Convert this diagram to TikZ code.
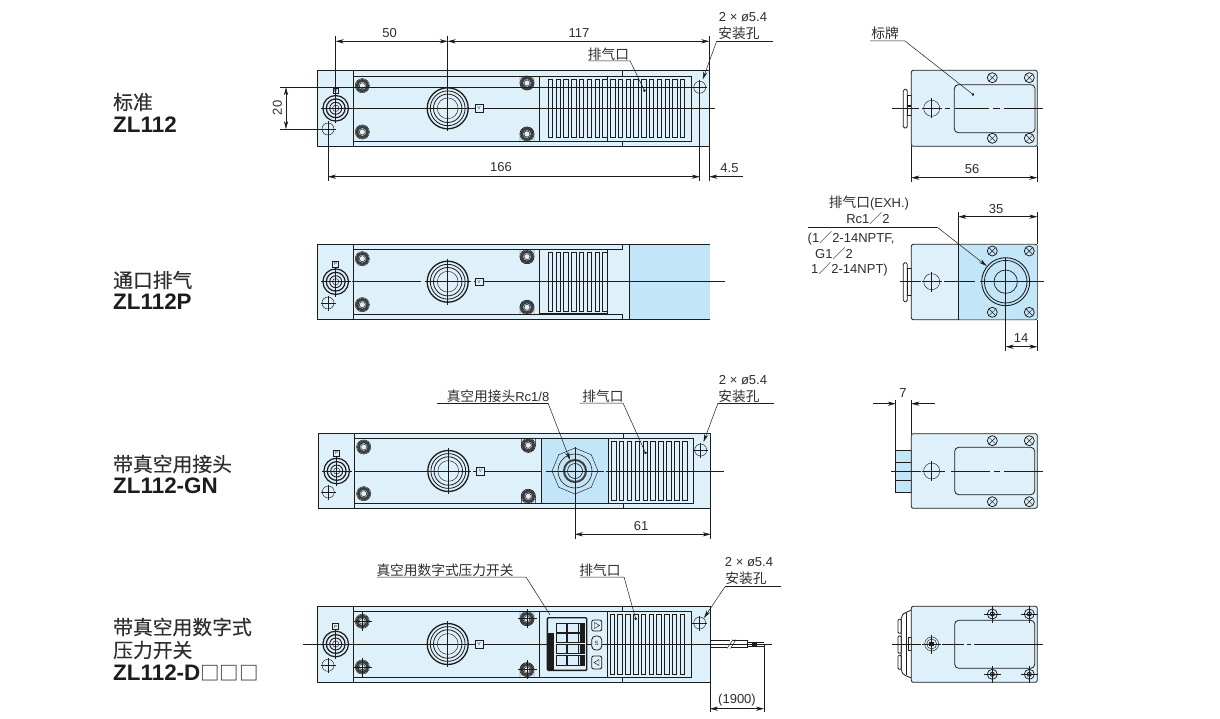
\documentclass[tikz,border=0pt]{standalone}
\usepackage{fontspec}
\setmainfont{Liberation Sans}
\newfontfamily\cjk{Noto Sans CJK SC}
\newfontfamily\cjkh[FakeBold=0.25]{Noto Sans CJK SC}
\usetikzlibrary{arrows.meta,shapes.geometric}
\definecolor{pale}{HTML}{DEF0FA}
\definecolor{deep}{HTML}{C3E5F8}
\definecolor{ink}{HTML}{1C1C1C}
\definecolor{txt}{HTML}{2E2E2E}
\tikzset{
  outline/.style={draw=ink,line width=0.8pt,fill=pale},
  plain/.style={draw=ink,line width=0.8pt},
  thin line/.style={draw=ink,line width=0.45pt},
  heavy/.style={draw=ink,line width=1.2pt},
  center line/.style={draw=ink,line width=0.55pt},
  dimension/.style={draw=ink,line width=0.5pt,{Stealth[length=8pt,width=4.2pt]}-{Stealth[length=8pt,width=4.2pt]}},
  extension/.style={draw=ink,line width=0.5pt},
  leader/.style={draw=ink,line width=0.5pt},
  leader arrow/.style={leader,-{Stealth[length=8pt,width=4pt]}},
  leader dot/.style={leader,-{Circle[length=2.6pt]}},
  lbl/.style={inner sep=0pt,text=txt,font=\fontsize{13}{15}\selectfont},
  lblc/.style={inner sep=0pt,text=txt,font=\fontsize{13.7}{15}\selectfont\cjk},
  headc/.style={inner sep=0pt,anchor=west,text=txt,font=\fontsize{19.8}{21}\selectfont\cjkh},
  headb/.style={inner sep=0pt,anchor=west,text=ink,font=\fontsize{22.4}{23}\selectfont\bfseries},
  tag/.style={inner sep=0pt,text=txt,font=\fontsize{4.5}{5}\selectfont},
}
\newcommand{\ScrewHead}[2]{%
  \path[draw=ink!85,line width=2.8pt,fill=pale] (#1,#2) circle (5.4pt);
  \path[thin line] (#1,#2) circle (3pt);
  \path[thin line] (#1,#2) circle (7.1pt);}
\newcommand{\TabTop}[3]{%
  \path[thin line] ({#1-7},#3) -- ({#1-7},#2) arc[start angle=180,end angle=360,radius=7pt] -- ({#1+7},#3);
  \ScrewHead{#1}{#2}}
\newcommand{\TabBot}[3]{%
  \path[thin line] ({#1-7},#3) -- ({#1-7},#2) arc[start angle=180,end angle=0,radius=7pt] -- ({#1+7},#3);
  \ScrewHead{#1}{#2}}
\newcommand{\CrossHair}[3]{%
  \path[thin line] ({#1-#3},#2) -- ({#1+#3},#2) ({#1},{#2-#3}) -- ({#1},{#2+#3});}
\newcommand{\MountHole}[2]{%
  \path[thin line,fill=pale] (#1,#2) circle (6pt);
  \CrossHair{#1}{#2}{7.5}}
\newcommand{\BigPort}[2]{%
  \path[draw=ink,line width=1.3pt] (#1,#2) circle (20.5pt);
  \path[plain] (#1,#2) circle (17.4pt);
  \path[plain] (#1,#2) circle (14.2pt);
  \path[thin line] (#1,#2) circle (10.4pt);
  \CrossHair{#1}{#2}{23}}
\newcommand{\SmallPort}[2]{%
  \path[draw=ink,line width=1.2pt] (#1,#2) circle (12.8pt);
  \path[draw=ink,line width=1.2pt] (#1,#2) circle (9.4pt);
  \path[draw=ink,line width=0.9pt] (#1,#2) circle (6pt);
  \path[thin line] (#1,#2) circle (3.2pt);
  \CrossHair{#1}{#2}{15}}
\newcommand{\TagBox}[5]{% x,y,name,size,text
  \node[tag,draw=ink,line width=0.5pt,minimum size=#4pt,fill=pale] (#3) at (#1,#2) {#5};}
\newcommand{\Slots}[6]{%
  \foreach \i in {0,...,#6}{\path[draw=ink,line width=0.7pt] ({#1+\i*#5},#2) rectangle ({#1+\i*#5+#4},#3);}}
\newcommand{\XScrew}[2]{%
  \path[draw=ink,line width=0.75pt] (#1,#2) circle (5pt);
  \path[thin line] ({#1-3.3},{#2-3.3}) -- ({#1+3.3},{#2+3.3}) ({#1-3.3},{#2+3.3}) -- ({#1+3.3},{#2-3.3});}
\newcommand{\CScrew}[2]{%
  \path[draw=ink,line width=0.75pt] (#1,#2) circle (5pt);
  \path[draw=ink,line width=1pt] (#1,#2) circle (2pt);
  \CrossHair{#1}{#2}{8.5}}
\newcommand{\wsl}{{\cjk ／}}
\begin{document}
\begin{tikzpicture}[x=1pt,y=-1pt]
\useasboundingbox (0,0) rectangle (1220,719);
\path[fill=white] (0,0) rectangle (1220,719);

% ---- headings
\node[headc] (h1) at (113,102) {标准};
\node[headb] (h1b) at (113,125) {ZL112};
\node[headc] (h2) at (113,280) {通口排气};
\node[headb] (h2b) at (113,302) {ZL112P};
\node[headc] (h3) at (113,464) {带真空用接头};
\node[headb] (h3b) at (113,486) {ZL112-GN};
\node[headc] (h4) at (113,627) {带真空用数字式};
\node[headc] (h4a) at (113,650) {压力开关};
\node[headb] (h4b) at (113,673) {ZL112-D{\mdseries\cjk\fontsize{19.4}{22}\selectfont □□□}};

% ======== ROW 1 ========
\path[outline] (317.7,70.3) rectangle (709.3,146.2);
\path[plain] (353.3,70.3) -- (353.3,146.2);
\path[plain] (353.3,76.3) rectangle (691.7,141.3);
\path[plain] (622.3,70.3) -- (622.3,76.3) (622.3,141.3) -- (622.3,146.2);
\path[heavy] (539.3,76.3) -- (539.3,141.3) -- (607.3,141.3);
\path[plain] (607.3,76.3) -- (607.3,141.3);
\Slots{548.3}{79.3}{137.7}{4.4}{7.77}{17}
\BigPort{447.7}{108.3}
\SmallPort{335.7}{108.3}
\TagBox{335.7}{90.7}{t1p}{5}{P}
\TagBox{479}{108.3}{t1v}{7.5}{V}
\MountHole{328}{129}
\MountHole{699.7}{87.3}
\ScrewHead{362.3}{85.7}
\ScrewHead{362.3}{132}
\TabTop{527}{83}{76.3}
\TabBot{527}{134}{141.3}
\path[center line] (335.7,108.3) -- (475,108.3) (483,108.3) -- (715,108.3);
% dims
\path[extension] (335.7,36) -- (335.7,108.3) (447.7,36) -- (447.7,108.3) (709.3,36) -- (709.3,70.3);
\path[dimension] (335.7,41.3) -- (447.7,41.3);
\path[dimension] (447.7,41.3) -- (709.3,41.3);
\node[lbl] (d50) at (389.5,33) {50};
\node[lbl] (d117) at (579,33) {117};
\path[extension] (280,87.3) -- (693,87.3) (280,129) -- (322,129);
\path[dimension] (286,87.3) -- (286,129);
\node[lbl,rotate=90] (d20) at (277.5,108) {20};
\path[extension] (328,129) -- (328,181.5) (699.7,93) -- (699.7,181.5) (709.3,146.2) -- (709.3,181.5);
\path[dimension] (328,176.7) -- (699.7,176.7);
\path[leader,-{Stealth[length=8pt,width=4.2pt]}] (743,176.7) -- (709.3,176.7);
\node[lbl] (d166) at (501,167) {166};
\node[lbl] (d45) at (729.5,168) {4.5};
\node[lblc] (v1) at (608.5,54) {排气口};
\path[leader dot] (588,60.8) -- (630,60.8) -- (645,91.7);
\node[lbl] (h1a) at (743,17) {2 × ø5.4};
\node[lblc] (h1c) at (739,33) {安装孔};
\path[leader] (773,41) -- (716.7,41);
\path[leader arrow] (716.7,41) -- (702.7,79.5);

% ---- side view 1
\path[plain,rounded corners=1.5pt] (903.3,89.3) rectangle (907.3,128);
\path[plain] (907.3,95) rectangle (911.3,105) (907.3,106.7) rectangle (911.3,115);
\path[outline,rounded corners=2pt] (911.3,70.3) rectangle (1037.3,146.3);
\path[plain,rounded corners=4pt] (954.3,84.7) rectangle (1035,132.7);
\XScrew{992.3}{77.7}\XScrew{1029.3}{77.7}\XScrew{992.3}{138.3}\XScrew{1029.3}{138.3}
\path[thin line,fill=pale] (931.7,108.3) circle (8pt);
\CrossHair{931.7}{108.3}{10}
\path[center line] (892,108.3) -- (919,108.3) (945,108.3) -- (950,108.3) (955,108.3) -- (989,108.3) (993,108.3) -- (1000,108.3) (1004,108.3) -- (1042.7,108.3);
\path[extension] (911.3,146.3) -- (911.3,182) (1037.3,146.3) -- (1037.3,182);
\path[dimension] (911.3,177.7) -- (1037.3,177.7);
\node[lbl] (d56) at (972,169.5) {56};
\node[lblc] (sign) at (885,33) {标牌};
\path[leader dot] (870,41) -- (905,41) -- (974,95.3);

% ======== ROW 2 ========
\path[outline] (317.7,244.3) rectangle (709.7,319.3);
\path[fill=deep] (629.3,244.3) rectangle (709.7,319.3);
\path[plain] (317.7,244.3) -- (709.7,244.3) (317.7,319.3) -- (709.7,319.3);
\path[plain] (353.3,244.3) -- (353.3,319.3) (629.3,244.3) -- (629.3,319.3);
\path[plain] (353.3,249.3) -- (622.3,249.3) -- (622.3,244.3) (353.3,314.3) -- (622.3,314.3) -- (622.3,319.3);
\path[heavy] (607.3,249.3) -- (539.3,249.3) -- (539.3,314) -- (607.3,314);
\path[plain] (607.3,249.3) -- (607.3,314);
\Slots{548.3}{252.3}{311.7}{4.4}{7.77}{7}
\BigPort{447.7}{281.7}
\SmallPort{335.7}{281.7}
\TagBox{335.7}{264.3}{t2p}{6}{P}
\MountHole{328}{303}
\ScrewHead{362.3}{258.7}
\ScrewHead{362.3}{304.7}
\TabTop{527}{256.7}{249.3}
\TabBot{527}{307.3}{314.3}
\path[center line] (352,281.7) -- (421,281.7) (474,281.7) -- (725,281.7);
\TagBox{479}{281.7}{t2v}{7.5}{V}

% ---- side view 2
\path[plain,rounded corners=1.5pt] (903.3,262.7) rectangle (907.3,301.7);
\path[plain] (907.3,268) rectangle (911.3,295);
\path[outline,rounded corners=2pt] (911.3,244.3) rectangle (1037.3,319.7);
\path[fill=deep,rounded corners=2pt] (958.3,245) rectangle (1036.9,319.3);
\path[plain] (958.3,244.3) -- (958.3,319.7);
\XScrew{992.3}{251}\XScrew{1029.3}{251}\XScrew{992.3}{312.3}\XScrew{1029.3}{312.3}
\path[draw=ink,line width=0.9pt] (1005.7,281.7) circle (24pt);
\path[draw=ink,line width=0.8pt] (1005.7,281.7) circle (21.3pt);
\path[draw=ink,line width=0.7pt] (1005.7,281.7) circle (11.7pt);
\path[thin line,fill=pale] (931.7,281.7) circle (8pt);
\CrossHair{931.7}{281.7}{10}
\path[center line] (900,281.7) -- (921,281.7) (927,281.7) -- (936,281.7) (944,281.7) -- (975,281.7) (980,281.7) -- (1044,281.7);
\path[extension] (1005.7,258) -- (1005.7,351);
\path[extension] (958.3,212) -- (958.3,244.3) (1037.3,212) -- (1037.3,244.3) (1037.3,319.7) -- (1037.3,351);
\path[dimension] (958.3,216.7) -- (1037.3,216.7);
\path[dimension] (1005.7,346.7) -- (1037.3,346.7);
\node[lbl] (d35) at (996,209) {35};
\node[lbl] (d14) at (1021,338) {14};
\node[lbl] (x1) at (869,203) {{\cjk\fontsize{13.7}{15}\selectfont 排气口}(EXH.)};
\node[lbl] (x2) at (868,219) {Rc1\wsl 2};
\path[leader] (808,227) -- (937,227);
\path[leader arrow] (937,227) -- (986.7,266);
\node[lbl,anchor=west] (x3) at (807.5,238) {(1\wsl 2-14NPTF,};
\node[lbl,anchor=west] (x4) at (815,254) {G1\wsl 2};
\node[lbl,anchor=west] (x5) at (811,269) {1\wsl 2-14NPT)};

% ======== ROW 3 ========
\path[outline] (318.7,433.7) rectangle (710.7,508.3);
\path[fill=deep] (541.3,438.3) rectangle (608.7,503.3);
\path[plain] (354.3,433.7) -- (354.3,508.3);
\path[plain] (354.3,438.3) rectangle (693.7,503.3);
\path[plain] (623.3,433.7) -- (623.3,438.3) (623.3,503.3) -- (623.3,508.3);
\path[heavy] (541.3,438.3) -- (541.3,503.3);
\path[plain] (608.7,438.3) -- (608.7,503.3);
\Slots{611.3}{441}{500.3}{4.6}{7.9}{9}
\BigPort{448.3}{471}
\SmallPort{336.7}{471}
\TagBox{336.7}{453.3}{t3p}{6}{P}
\MountHole{328.3}{492}
\MountHole{700.7}{450}
\ScrewHead{363.7}{447}
\ScrewHead{363.7}{493.7}
\TabTop{528.3}{445.3}{438.3}
\TabBot{528.3}{496.3}{503.3}
\path[center line] (354.3,471) -- (425,471) (473,471) -- (541,471) (546,471) -- (604,471) (606,471) -- (724,471);
\TagBox{480.3}{471}{t3v}{7.5}{V}
\node[draw=ink,line width=0.45pt,regular polygon,regular polygon sides=8,shape border rotate=22.5,minimum size=46pt,inner sep=0pt] (hex) at (575,471) {};
\path[draw=ink,line width=0.6pt] (575,471) circle (17pt);
\path[draw=ink!85,line width=2pt] (575,471) circle (11pt);
\path[draw=ink,line width=0.6pt] (575,471) circle (7.5pt);
\CrossHair{575}{471}{24}
\path[extension] (575,495) -- (575,538.5) (710.7,508.3) -- (710.7,538.5);
\path[dimension] (575,534.3) -- (710.7,534.3);
\node[lbl] (d61) at (641,526) {61};
\node[lblc] (vac) at (498,396) {真空用接头{\rmfamily\fontsize{13}{15}\selectfont Rc1/8}};
\path[leader] (437,403) -- (548,403);
\path[leader arrow] (548,403) -- (570,460);
\node[lblc] (v3) at (603,396) {排气口};
\path[leader dot] (580,403) -- (623,403) -- (646,454);
\node[lbl] (h3a) at (743,380) {2 × ø5.4};
\node[lblc] (h3c) at (739,396) {安装孔};
\path[leader] (774,403) -- (718,403);
\path[leader arrow] (718,403) -- (703.5,442);

% ---- side view 3
\path[outline,fill=deep] (895.7,450.3) rectangle (911.3,492.3);
\path[plain] (895.7,462) -- (911.3,462) (895.7,480) -- (911.3,480);
\path[outline,rounded corners=2pt] (911.3,433.7) rectangle (1037.3,508.3);
\path[plain,rounded corners=4pt] (954.7,447.3) rectangle (1034.7,494.7);
\XScrew{992.3}{440.7}\XScrew{1029.3}{440.7}\XScrew{992.3}{501.7}\XScrew{1029.3}{501.7}
\path[thin line,fill=pale] (931.7,471) circle (8pt);
\CrossHair{931.7}{471}{10}
\path[center line] (891,471) -- (921,471) (927,471) -- (936,471) (941,471) -- (945,471) (951,471) -- (990,471) (994,471) -- (1000,471) (1004,471) -- (1043,471);
\path[extension] (895.7,399.5) -- (895.7,450.3) (911.3,399.5) -- (911.3,433.7);
\path[leader,-{Stealth[length=8pt,width=4.2pt]}] (873.3,403.7) -- (895.7,403.7);
\path[leader,-{Stealth[length=8pt,width=4.2pt]}] (935,403.7) -- (911.3,403.7);
\node[lbl] (d7) at (903,393) {7};

% ======== ROW 4 ========
\path[outline] (317.7,606.3) rectangle (710,682);
\path[plain] (353.3,606.3) -- (353.3,682);
\path[plain] (353.3,611.3) rectangle (691.7,677);
\path[plain] (622.3,606.3) -- (622.3,611.3) (622.3,677) -- (622.3,682);
\path[plain] (539.3,611.3) -- (539.3,677) (607.3,611.3) -- (607.3,677);
\Slots{610}{614.3}{674}{4.6}{7.77}{9}
\BigPort{447.7}{644}
\SmallPort{335.7}{644}
\TagBox{335.7}{626.7}{t4p}{6}{P}
\MountHole{328}{665.3}
\MountHole{699.7}{623}
\ScrewHead{362.3}{621.3}\CrossHair{362.3}{621.3}{9.5}
\ScrewHead{362.3}{667}\CrossHair{362.3}{667}{9.5}
\TabTop{527}{618.7}{611.3}\CrossHair{527}{618.7}{9.5}
\TabBot{527}{669.7}{677}\CrossHair{527}{669.7}{9.5}
\path[center line] (303,644) -- (771.7,644);
\TagBox{479}{644}{t4v}{7.5}{V}
% digital switch
\path[draw=ink,line width=1.4pt,rounded corners=1pt,fill=pale] (547.3,617.7) rectangle (586.7,670.3);
\path[fill=ink] (548,632.7) rectangle (554,670);
\foreach \ya/\yb in {623.3/632.3,633.3/642.7,644.3/653.3,655/665}{
  \path[draw=ink,line width=0.7pt,fill=deep!60] (556,\ya) rectangle (566.5,\yb);
  \path[draw=ink,line width=0.7pt,fill=deep!60] (567.5,\ya) rectangle (578,\yb);
  \path[fill=ink] (580,\ya) rectangle (584.5,\yb);
  \path[draw=ink,line width=0.7pt] (556,\ya) -- (584.5,\ya) (556,\yb) -- (584.5,\yb);
}
\path[plain,rounded corners=2pt,fill=pale] (591.7,620) rectangle (601.7,631);
\path[plain,rounded corners=4pt,fill=pale] (591.7,636) rectangle (601.7,650);
\path[plain,rounded corners=2pt,fill=pale] (591.7,656) rectangle (601.7,669);
\path[thin line] (594.5,622.5) -- (599.5,625.5) -- (594.5,628.5) -- cycle;
\path[thin line] (599,659.5) -- (594,662.5) -- (599,665.5) -- cycle;
\node[inner sep=0pt,text=txt,font=\fontsize{6}{6}\selectfont] (sw) at (596.7,643) {S};
% cable
\path[plain] (710,640.3) -- (730,640.3) (710,647.7) -- (727,647.7) (733,640.3) -- (747,640.3) (730.5,647.7) -- (747,647.7) (747,640.3) -- (747,647.7);
\path[thin line] (733,639.5) -- (727,648.5) (736,639.5) -- (730.5,648.5);
\path[thin line] (747,642) -- (763.5,642) (747,644) -- (763.5,644) (747,646) -- (763.5,646);
\path[fill=ink] (752,641.5) rectangle (757,646.5);
\path[extension] (710,682) -- (710,711.5) (764,644) -- (764,711.5);
\path[dimension] (710,708.7) -- (764,708.7);
\node[lbl] (d19) at (737,700.5) {(1900)};
\node[lblc] (sw2) at (445,570) {真空用数字式压力开关};
\path[leader] (377,577) -- (526,577) -- (550,615);
\node[lblc] (v4) at (600,570) {排气口};
\path[leader dot] (580,577) -- (624,577) -- (636,620);
\node[lbl] (h4x) at (749,562) {2 × ø5.4};
\node[lblc] (h4y) at (746,578) {安装孔};
\path[leader] (781,586.7) -- (725,586.7);
\path[leader arrow] (725,586.7) -- (704,618);

% ---- side view 4
\path[plain,rounded corners=1pt] (898,619.3) rectangle (901.3,633.3) (898,636) rectangle (901.3,653.3) (898,655.3) rectangle (901.3,669.3);
\path[plain,rounded corners=2pt] (911.3,610) -- (904,613.3) -- (901.3,616) -- (901.3,672) -- (904,675) -- (911.3,678);
\path[plain] (906,613) -- (906,675);
\path[plain] (908.3,637.7) rectangle (911.3,650);
\path[outline,rounded corners=2pt] (911.3,606.3) rectangle (1037.3,682.3);
\path[plain,rounded corners=4pt] (954.7,620.3) rectangle (1034.7,668.3);
\CScrew{992.3}{614}\CScrew{1029.3}{614}\CScrew{992.3}{674.3}\CScrew{1029.3}{674.3}
\path[thin line] (931.7,644) circle (7pt);
\path[thin line] (931.7,644) circle (5pt);
\path[fill=ink] (929.3,641.6) rectangle (934.1,646.4);
\CrossHair{931.7}{644}{9.5}
\path[center line] (892,644) -- (921,644) (942,644) -- (964,644) (967,644) -- (971,644) (974,644) -- (1043,644);
\end{tikzpicture}
\end{document}
